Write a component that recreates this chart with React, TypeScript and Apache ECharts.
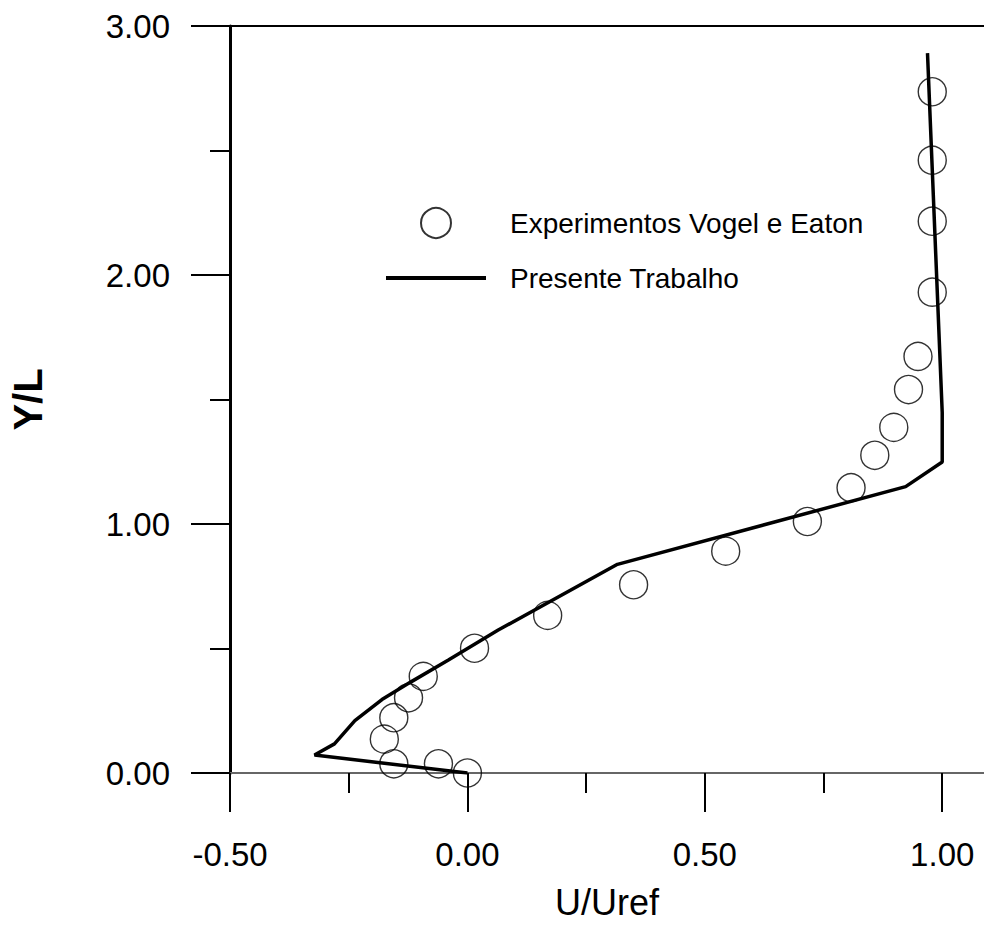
import React, { useEffect, useRef } from "react";
import * as echarts from "echarts";

const FONT = "'Liberation Sans', Arial, Helvetica, sans-serif";

// Experimental points (U/Uref, Y/L)
const expU = [0.0, -0.061, -0.155, -0.175, -0.155, -0.124, -0.093, 0.015, 0.169, 0.35, 0.544, 0.716, 0.808, 0.858, 0.898, 0.929, 0.949, 0.979, 0.979, 0.979, 0.979];
const expY = [0.0, 0.037, 0.037, 0.136, 0.222, 0.302, 0.388, 0.501, 0.633, 0.756, 0.891, 1.01, 1.146, 1.276, 1.388, 1.54, 1.673, 1.931, 2.216, 2.461, 2.736];

// Present work (computed profile)
const simU = [0.0, -0.322, -0.28, -0.237, -0.18, -0.117, -0.04, 0.064, 0.316, 0.923, 1.0, 1.0, 0.969];
const simY = [0.0, 0.072, 0.117, 0.21, 0.295, 0.368, 0.454, 0.573, 0.838, 1.15, 1.249, 1.448, 2.891];

const xMajorTicks = [-0.5, 0.0, 0.5, 1.0];
const xMinorTicks = [-0.25, 0.25, 0.75];
const yMajorTicks = [0, 1, 2, 3];
const yMinorTicks = [0.5, 1.5, 2.5];

const seriesNames = ["Experimentos Vogel e Eaton", "Presente Trabalho"];
const xTitle = "U/Uref";
const yTitle = "Y/L";

const X_MIN = -0.5;
const X_MAX = 1.088;
const Y_MIN = 0;
const Y_MAX = 3;

export default function App() {
  const ref = useRef<HTMLDivElement>(null);

  useEffect(() => {
    if (!ref.current) return;
    const chart = echarts.init(ref.current, undefined, { renderer: "svg" });

    const expData = expU.map((u, i) => [u, expY[i]]);
    const simData = simU.map((u, i) => [u, simY[i]]);

    const option: any = {
      animation: false,
      backgroundColor: "#ffffff",
      textStyle: { fontFamily: FONT },
      grid: { left: 226, right: 0, top: 26, bottom: 144, containLabel: false },
      legend: {
        left: 386,
        top: 207,
        orient: "vertical",
        padding: 0,
        itemWidth: 100,
        itemHeight: 30,
        itemGap: 25,
        selectedMode: false,
        data: [
          { name: seriesNames[0], icon: "circle" },
          { name: seriesNames[1], icon: "path://M0,0 L100,0 L100,4 L0,4 Z" },
        ],
        textStyle: { fontSize: 28, fontFamily: FONT, color: "#000", padding: [0, 0, 0, 19] },
      },
      xAxis: [
        {
          type: "value",
          position: "bottom",
          min: X_MIN,
          max: X_MAX,
          interval: 0.5,
          name: xTitle,
          nameLocation: "middle",
          nameGap: 111,
          nameTextStyle: { fontSize: 36, color: "#000", fontFamily: FONT },
          axisLine: { show: true, onZero: false, lineStyle: { color: "#666", width: 2 } },
          axisTick: { show: true, length: 39, customValues: xMajorTicks, lineStyle: { color: "#000", width: 2 } },
          axisLabel: {
            show: true,
            customValues: xMajorTicks,
            margin: 65,
            fontSize: 33,
            color: "#000",
            fontFamily: FONT,
            formatter: (v: number) => v.toFixed(2),
          },
          splitLine: { show: false },
        },
        {
          type: "value",
          position: "bottom",
          min: X_MIN,
          max: X_MAX,
          interval: 0.5,
          axisLine: { show: false, onZero: false },
          axisTick: { show: true, length: 20, customValues: xMinorTicks, lineStyle: { color: "#000", width: 2 } },
          axisLabel: { show: false },
          splitLine: { show: false },
        },
        {
          type: "value",
          position: "top",
          min: X_MIN,
          max: X_MAX,
          interval: 0.5,
          axisLine: { show: true, onZero: false, lineStyle: { color: "#000", width: 2 } },
          axisTick: { show: false },
          axisLabel: { show: false },
          splitLine: { show: false },
        },
      ],
      yAxis: [
        {
          type: "value",
          position: "left",
          min: Y_MIN,
          max: Y_MAX,
          interval: 1,
          name: yTitle,
          nameLocation: "middle",
          nameGap: 182,
          nameTextStyle: { fontSize: 40, fontWeight: "bold", color: "#000", fontFamily: FONT },
          axisLine: { show: true, onZero: false, lineStyle: { color: "#000", width: 3 } },
          axisTick: { show: true, length: 39, customValues: yMajorTicks, lineStyle: { color: "#000", width: 2 } },
          axisLabel: {
            show: true,
            customValues: yMajorTicks,
            margin: 60,
            fontSize: 33,
            color: "#000",
            fontFamily: FONT,
            formatter: (v: number) => v.toFixed(2),
          },
          splitLine: { show: false },
        },
        {
          type: "value",
          position: "left",
          min: Y_MIN,
          max: Y_MAX,
          interval: 1,
          axisLine: { show: false, onZero: false },
          axisTick: { show: true, length: 20, customValues: yMinorTicks, lineStyle: { color: "#000", width: 2 } },
          axisLabel: { show: false },
          splitLine: { show: false },
        },
      ],
      series: [
        {
          name: seriesNames[0],
          type: "scatter",
          xAxisIndex: 0,
          yAxisIndex: 0,
          symbol: "circle",
          symbolSize: 28,
          itemStyle: { color: "rgba(255,255,255,0)", borderColor: "#000", borderWidth: 1.4 },
          data: expData,
          z: 3,
        },
        {
          name: seriesNames[1],
          type: "line",
          xAxisIndex: 0,
          yAxisIndex: 0,
          symbol: "none",
          showSymbol: false,
          lineStyle: { color: "#000", width: 3.5 },
          itemStyle: { color: "#000" },
          data: simData,
          z: 4,
        },
      ],
    };

    chart.setOption(option);
    return () => chart.dispose();
  }, []);

  return (
    <div
      ref={ref}
      style={{ position: "fixed", left: 0, top: 0, width: 984, height: 925, background: "#fff" }}
    />
  );
}
